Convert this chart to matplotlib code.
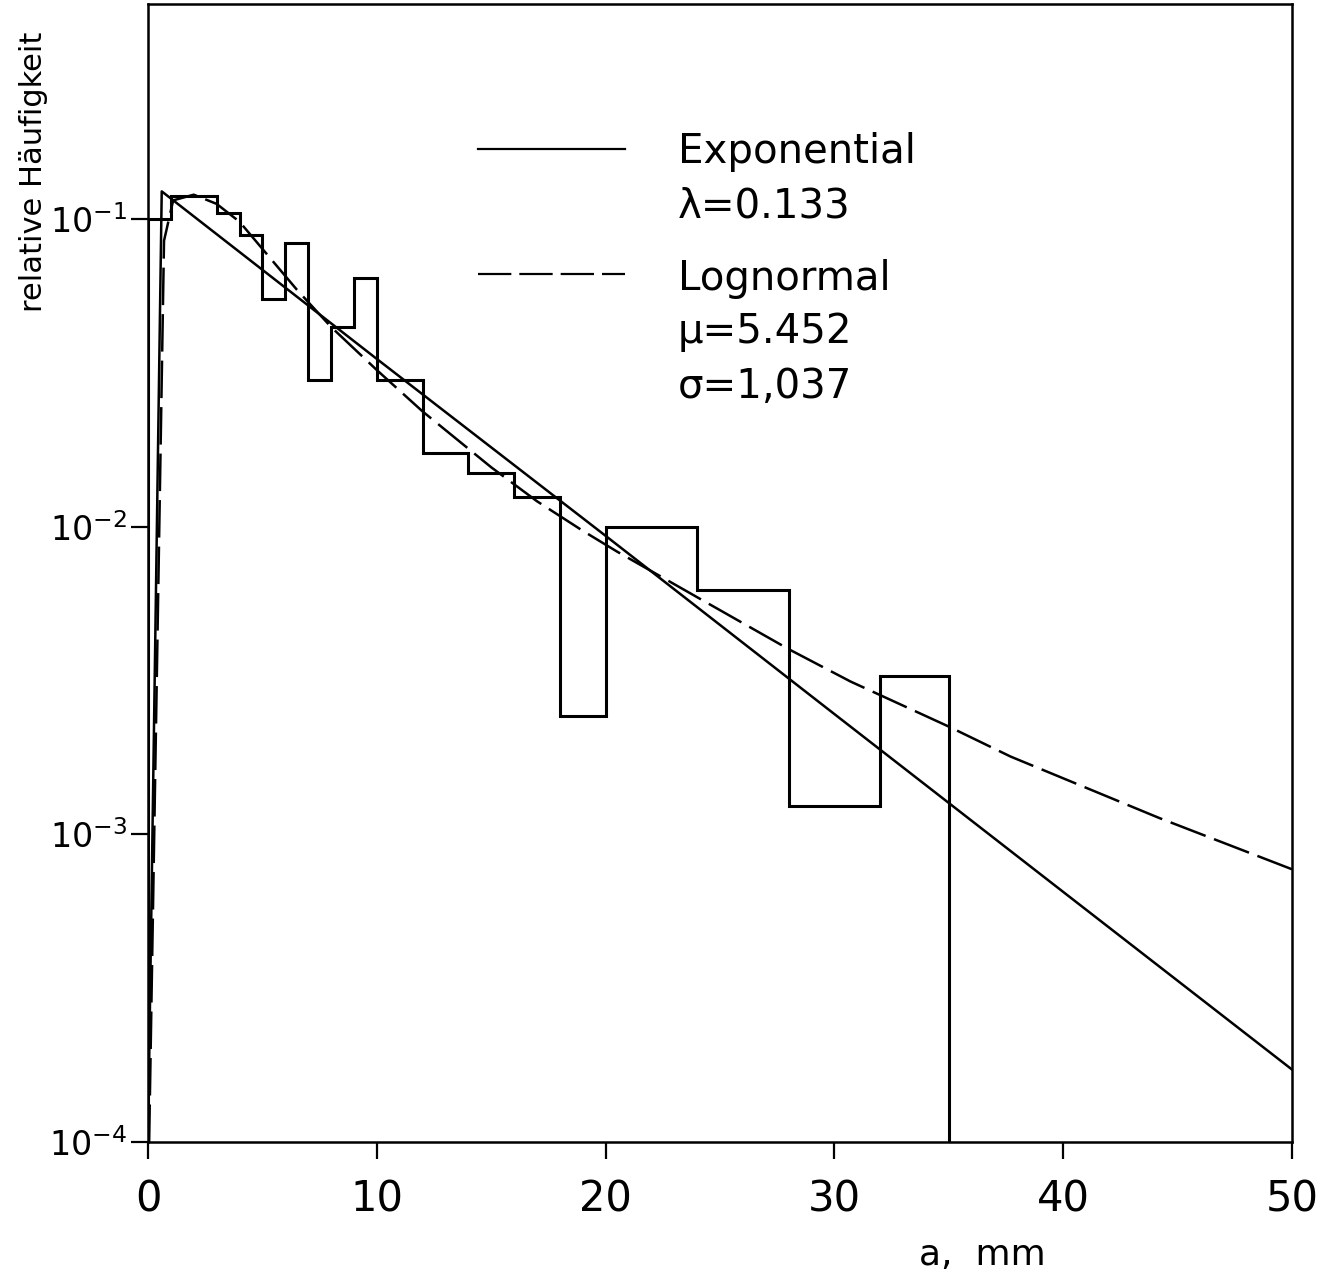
import numpy as np
import matplotlib
matplotlib.use("Agg")
import matplotlib.pyplot as plt

# histogram: bin edges (mm) and relative frequency
edges = [0, 1, 3, 4, 5, 6, 7, 8, 9, 10, 12, 14, 16, 18, 20, 24, 28, 32, 35]
freq = [0.100, 0.119, 0.105, 0.0887, 0.0550, 0.0836, 0.0299, 0.0446, 0.0643,
        0.0299, 0.0173, 0.0149, 0.01245, 0.00243, 0.00996, 0.00621, 0.00124, 0.00326]

# exponential fit
a_exp = [0.0, 0.6, 10, 20, 30, 40, 50]
f_exp = [1e-4, 0.123, 0.0351, 0.00934, 0.00246, 6.5e-4, 1.72e-4]

# lognormal fit
a_logn = [0.05, 0.7, 1.1, 2.0, 3.0, 4.0, 5.0, 6.5, 8.0, 10, 12, 15, 17, 19, 20.5,
          24, 28, 30.7, 35, 37.7, 44.2, 50]
f_logn = [1e-4, 0.085, 0.115, 0.12, 0.112, 0.098, 0.080, 0.059, 0.0446, 0.0323,
          0.0237, 0.0156, 0.0121, 0.0097, 0.0083, 0.0059, 0.0040, 0.00314, 0.00224,
          0.00179, 0.00113, 0.00077]

xticks = [0, 10, 20, 30, 40, 50]
yticks = [1e-4, 1e-3, 1e-2, 1e-1]
ylabels = [r'$\mathregular{10^{-4}}$', r'$\mathregular{10^{-3}}$',
           r'$\mathregular{10^{-2}}$', r'$\mathregular{10^{-1}}$']

plt.rcParams['font.family'] = ['DejaVu Sans']
plt.rcParams['mathtext.fontset'] = 'dejavusans'

fig = plt.figure(figsize=(13.33, 12.81), dpi=100)
ax = fig.add_axes([148 / 1333, 139 / 1281, 1144 / 1333, 1138 / 1281])

ax.stairs(freq, edges, baseline=1e-4, color='black', lw=2.2)
ax.plot(a_exp, f_exp, color='black', lw=1.8)
ax.plot(a_logn, f_logn, color='black', lw=1.8, dashes=[15, 3.6])

ax.set_yscale('log')
ax.set_xlim(0, 50)
ax.set_ylim(1e-4, 0.5)
ax.set_xticks(xticks)
ax.set_yticks(yticks)
ax.set_yticklabels(ylabels)
ax.yaxis.set_minor_locator(matplotlib.ticker.NullLocator())
ax.tick_params(axis='x', direction='out', length=12, width=1.6, pad=14, labelsize=30)
ax.tick_params(axis='y', direction='out', length=12, width=1.6, pad=3, labelsize=24)
for s in ax.spines.values():
    s.set_linewidth(1.8)

# hand-drawn style legend
ax.plot([0.2885, 0.4170], [0.8726, 0.8726], transform=ax.transAxes, color='black', lw=1.6)
ax.plot([0.2885, 0.4170], [0.7627, 0.7627], transform=ax.transAxes, color='black', lw=1.6,
        dashes=[15, 3.6])
tx = 0.4633
for yy, s in [(0.8603, 'Exponential'), (0.8128, 'λ=0.133'), (0.7487, 'Lognormal'),
              (0.7021, 'μ=5.452'), (0.6538, 'σ=1,037')]:
    ax.text(tx, yy, s, transform=ax.transAxes, ha='left', va='baseline', fontsize=29)

fig.text(34 / 1333, 1 - 172 / 1281, 'relative Häufigkeit', rotation=90,
         ha='center', va='center', fontsize=22)
fig.text(982 / 1333, 1 - 1255 / 1281, 'a,  mm', ha='center', va='center', fontsize=26)

fig.savefig('out.png', dpi=100)
